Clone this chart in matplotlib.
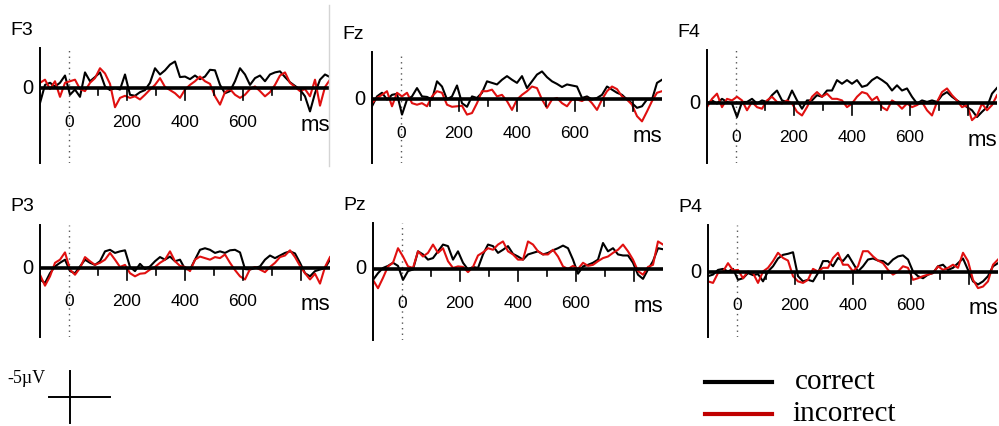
import numpy as np
import matplotlib
matplotlib.use("Agg")
import matplotlib.pyplot as plt
from matplotlib.lines import Line2D

# ---- data: ERP amplitude in uV (negative plotted up), -100..900 ms ----
channels = ["F3", "Fz", "F4", "P3", "Pz", "P4"]
tick_labels = [0, 200, 400, 600]
series_labels = ["correct", "incorrect"]

f3_correct = [2.9, -0.6, -1.0, -0.3, -1.0, -2.4, 1.3, 0.3, 1.7, -3.0, -1.3, -2.1, -3.0, -0.3, 0.4, 0.0, 0.3, -2.6, 1.3, 1.5,
              0.8, 0.4, -1.0, -3.8, -2.6, -3.4, -4.5, -5.1, -2.1, -2.2, -1.7, -2.4, -1.7, -2.2, -3.5, -3.4, -0.6, 1.0, 0.6, -1.3,
              -3.8, -2.6, -0.6, -1.9, -2.4, -1.3, -2.6, -3.0, -3.2, -2.1, -1.1, -0.4, 0.3, 1.6, 4.5, 1.0, -1.6, -2.6, -2.1]
f3_incorrect = [-1.0, -1.6, 0.2, -1.3, 1.7, -1.0, -1.3, -1.6, 0.2, 0.6, -1.0, -1.9, -3.8, -2.8, -0.8, 3.7, 1.9, 1.5, 1.9, 1.6,
                2.2, 1.3, 0.3, -0.6, -1.9, -0.2, 0.4, 1.0, 1.9, 0.3, -0.6, -1.3, -2.2, -1.3, -0.8, 1.6, 3.2, 0.8, 0.2, 1.3,
                1.9, 1.3, 0.2, -0.3, 0.6, 1.6, 0.8, -0.6, -2.4, -3.0, -1.0, -0.2, 0.6, 0.2, 1.6, -1.6, 3.4, -0.2, -1.6]
fz_correct = [1.4, -0.5, -1.2, 0.1, -0.8, -1.0, 3.0, 0.1, -0.5, -2.1, -0.5, -0.4, 0.1, -3.4, -2.4, 0.1, -0.5, -2.6, 0.8, 1.5,
              -0.5, -0.2, -1.2, -3.4, -3.1, -2.8, -3.7, -4.4, -3.7, -3.1, -4.4, -2.1, -3.4, -4.7, -5.3, -4.2, -3.4, -2.9, -2.3, -2.8,
              -2.6, -2.4, -0.2, -0.5, 0.1, -0.2, -0.8, -2.4, -1.8, -1.2, -0.8, 0.1, 0.8, 1.7, 1.4, 0.1, 0.1, -3.1, -3.7]
fz_incorrect = [0.8, -0.2, -0.8, -1.5, 1.4, -1.2, -0.5, -1.2, 0.8, 1.1, 0.8, 1.4, -0.5, -1.5, -1.2, 1.1, 1.5, 1.4, 1.3, 3.0,
                2.7, 0.8, -1.5, -1.5, -1.8, -0.5, -0.8, 0.4, 2.1, 0.1, -0.8, -1.5, -2.4, -2.1, 0.1, 1.7, 0.1, -0.2, 0.8, 1.4,
                0.1, 0.1, 0.4, -0.2, 0.8, 2.1, 0.1, -1.5, -2.4, -1.9, -0.5, 0.1, 1.1, 3.3, 4.3, 2.4, 0.4, -1.2, -1.5]
f4_correct = [0.1, -0.5, 0.1, -0.8, -0.2, 0.1, 2.7, -0.2, -0.2, -0.8, 0.1, -0.5, -0.2, -1.5, -2.4, -0.5, -0.2, -2.4, -0.5, 1.1,
              -0.5, -0.5, -1.5, -1.2, -2.4, -2.4, -4.4, -3.7, -4.4, -3.7, -4.4, -3.1, -3.4, -4.4, -5.0, -4.4, -3.7, -2.4, -3.4, -2.4,
              -2.8, -1.2, 0.1, -0.5, -0.2, -0.5, -0.2, -1.5, -2.1, -1.2, -0.5, 0.1, 0.8, 1.4, 2.7, 1.7, 0.8, -1.8, -2.9]
f4_incorrect = [0.8, -0.8, -1.8, 0.8, -0.8, -0.5, -1.2, -0.5, 1.4, -0.2, 0.8, 1.1, -0.5, -1.2, -0.2, 0.1, -0.5, 0.1, 1.7, 2.4,
                0.8, -1.2, -2.1, -1.2, -1.8, -0.8, -0.8, -0.5, 0.8, 0.1, -1.2, -2.1, -1.8, -0.5, -1.2, 0.8, 1.4, -0.5, 0.1, 1.1,
                0.1, 0.8, 0.4, -0.2, 1.4, 2.4, -0.2, -2.1, -2.8, -1.5, -0.5, 0.8, 0.4, 3.3, 2.4, 0.1, 1.4, 0.4, -1.5]
p3_correct = [2.2, 2.9, 1.0, -0.3, -1.0, -1.6, 0.6, 1.0, -0.3, -1.6, -1.0, -0.6, -1.3, -3.2, -3.5, -2.9, -3.2, -3.4, -0.2, 0.6,
              -0.8, 0.2, -0.3, -1.3, -2.1, -1.6, -2.2, -1.3, -1.6, 0.2, 0.3, -1.6, -3.5, -3.8, -3.5, -2.9, -3.2, -2.9, -3.4, -3.5,
              -3.0, 0.2, 0.3, 0.0, -0.3, -1.6, -2.4, -1.9, -2.4, -2.9, -3.2, -2.8, -1.0, 1.0, 1.6, 0.6, 0.3, 0.0, -1.6]
p3_incorrect = [1.3, 3.4, 1.6, -1.0, -1.6, -3.0, 0.3, 1.3, 0.0, -2.1, -1.3, -0.6, -1.0, -1.6, -2.9, -1.6, -0.2, -0.6, 1.0, 1.6,
                1.1, 1.0, 0.3, -0.2, -1.0, -1.6, -3.2, -1.3, -0.4, -0.2, 0.6, -1.6, -2.2, -1.9, -1.6, -2.1, -1.9, -2.6, -1.0, 0.4,
                1.6, 2.2, 0.2, -0.2, 0.3, 0.8, -0.2, -1.0, -2.1, -2.4, -3.4, -2.1, -0.4, 1.0, 2.2, 1.1, 3.0, -0.2, -2.1]
pz_correct = [2.1, 0.8, -0.2, -0.6, -1.2, -0.6, 2.1, 0.4, 0.1, -3.4, -2.8, -1.8, -2.1, -3.4, -4.7, -4.4, -1.8, -3.4, -1.2, 0.1,
              -0.4, -0.2, -2.8, -4.7, -4.4, -3.1, -3.7, -4.4, -2.9, -2.4, -1.8, -2.8, -3.1, -3.4, -2.8, -3.1, -3.6, -4.0, -4.5, -4.0,
              -1.8, 0.9, -0.5, -0.8, -1.2, -1.8, -5.0, -3.4, -4.0, -2.8, -2.6, -2.6, -1.2, 1.1, 1.9, 0.1, -1.5, -4.0, -3.8]
pz_incorrect = [2.1, 3.7, 1.7, -0.5, -1.2, -4.0, -2.4, -0.5, -0.2, -3.4, -2.4, -3.1, -4.7, -3.1, -4.0, -1.5, -0.2, -0.5, -0.4, 0.6,
                -0.4, -2.6, -3.2, -4.0, -3.7, -4.7, -5.3, -3.4, -2.8, -1.8, -1.8, -5.3, -4.7, -3.4, -2.8, -2.8, -3.7, -2.4, -0.5, 0.0,
                -0.6, 0.0, -1.2, -0.6, -0.8, -1.5, -2.1, -2.4, -3.1, -3.7, -4.7, -3.4, -1.8, 0.4, 1.1, -0.4, -0.8, -5.3, -4.7]
p4_correct = [0.8, 0.5, -0.4, -0.6, -0.1, -0.6, 1.5, 1.2, 0.2, 0.6, 0.4, 1.8, -0.1, -1.1, -2.6, -3.3, -3.5, -3.8, 0.8, 1.8,
              1.5, 1.8, 0.2, -2.1, -2.1, -1.1, -2.7, -2.1, -3.3, -1.7, -0.1, -1.1, -2.4, -2.6, -2.2, -2.1, -1.4, -2.4, -3.0, -3.2,
              -2.4, -0.1, 0.8, 1.2, 0.5, 0.2, -1.1, -1.4, -0.4, -0.8, -1.7, -2.6, -0.4, 1.8, 2.4, 1.8, 0.8, -1.1, -1.7]
p4_incorrect = [1.8, 2.1, 0.2, -0.1, -1.7, -0.3, -0.4, 1.2, -0.1, 0.2, 2.1, -0.1, -0.8, -2.1, -3.7, -2.7, -2.2, 0.8, 1.8, 2.1,
                1.5, -0.6, -0.1, -0.8, -0.8, -2.7, -3.7, -1.4, -1.4, -0.1, -1.1, -4.0, -4.0, -3.0, -2.2, -1.7, -0.4, 0.5, -0.1, -1.1,
                -0.8, 1.5, 1.2, 0.8, 0.5, 0.2, -1.1, -0.4, -0.8, -1.4, -0.8, -3.7, -2.1, 1.5, 3.1, 2.8, 1.8, -1.4, -2.4]

correct = [f3_correct, fz_correct, f4_correct, p3_correct, pz_correct, p4_correct]
incorrect = [f3_incorrect, fz_incorrect, f4_incorrect, p3_incorrect, pz_incorrect, p4_incorrect]

# ---- layout (pixels) ----
W, H = 999, 426
PX_UV = 5.2    # px per uV
PX_MS = 0.29   # px per ms
T0, T1 = -100, 900
# left edge (t=-100), top, zero line, bottom of each panel
panels = [(40, 48, 88, 163), (372, 52, 99, 163), (707, 50, 103, 163),
          (40, 225, 268, 337), (373, 223, 269, 340), (708, 225, 272, 337)]

sans = ['Liberation Sans', 'DejaVu Sans']
serif = ['Liberation Serif', 'DejaVu Serif']
red = '#e01010'

fig = plt.figure(figsize=(W / 100, H / 100), dpi=100)

for i, (L, T, Z, B) in enumerate(panels):
    wpx = (T1 - T0) * PX_MS
    ax = fig.add_axes([L / W, 1 - B / H, wpx / W, (B - T) / H])
    ax.set_xlim(T0, T1)
    ax.set_ylim((B - Z) / PX_UV, -(Z - T) / PX_UV)   # negative up
    ax.axis('off')

    t = np.linspace(T0, T1, len(correct[i]))
    ax.plot(t, correct[i], color='black', lw=1.5, zorder=3)
    ax.plot(np.linspace(T0, T1, len(incorrect[i])), incorrect[i], color=red, lw=1.5, zorder=3)

    ax.axhline(0, color='black', lw=2.6, zorder=4)
    ax.axvline(T0, color='black', lw=1.4, clip_on=False, zorder=4)
    ax.axvline(0, color='#555555', lw=1.0, linestyle=(0, (1, 3)), zorder=2)
    for tk in range(100, 900, 100):
        ln = 12 if tk % 200 == 0 else 7
        ax.plot([tk, tk], [0, ln / PX_UV], color='black', lw=1.2, zorder=4)

    for lab in tick_labels:
        ax.text(lab, 34 / PX_UV, str(lab), ha='center', va='center',
                fontsize=12.5, family=sans, clip_on=False)
    ax.text(848, 37 / PX_UV, 'ms', ha='center', va='center', fontsize=16,
            family=sans, clip_on=False)
    ax.text(-142, 0, '0', ha='center', va='center', fontsize=14.5,
            family=sans, clip_on=False)
    ax.text(-203, -(Z - T + 18) / PX_UV, channels[i], ha='left', va='center',
            fontsize=14, family=sans, clip_on=False)

# faint crop border from the source image
fig.add_artist(Line2D([329 / W, 329 / W], [1 - 5 / H, 1 - 166 / H], color='#d4d4d4', lw=1))

# calibration cross
cal = fig.add_axes([40 / W, 1 - 428 / H, 90 / W, 63 / H])
cal.set_xlim(-30 / PX_MS, 60 / PX_MS)
cal.set_ylim((428 - 397) / PX_UV, -(397 - 365) / PX_UV)
cal.axis('off')
cal.plot([0, 0], [-5, 5], color='black', lw=1.4)
cal.plot([-72, 138], [0, 0], color='black', lw=1.4)
cal.text(-150, -3.5, '-5\u00b5V', ha='center', va='center', fontsize=13,
         family=serif, clip_on=False)

# legend
for j, (lab, col, y) in enumerate(zip(series_labels, ['black', '#c00000'], [382, 414])):
    fig.add_artist(Line2D([705 / W, 772 / W], [1 - y / H, 1 - y / H], color=col, lw=3))
    fig.text((795 - 3 * j) / W, 1 - y / H, lab, ha='left', va='center',
             fontsize=21, family=serif)

fig.savefig('out.png', dpi=100)
